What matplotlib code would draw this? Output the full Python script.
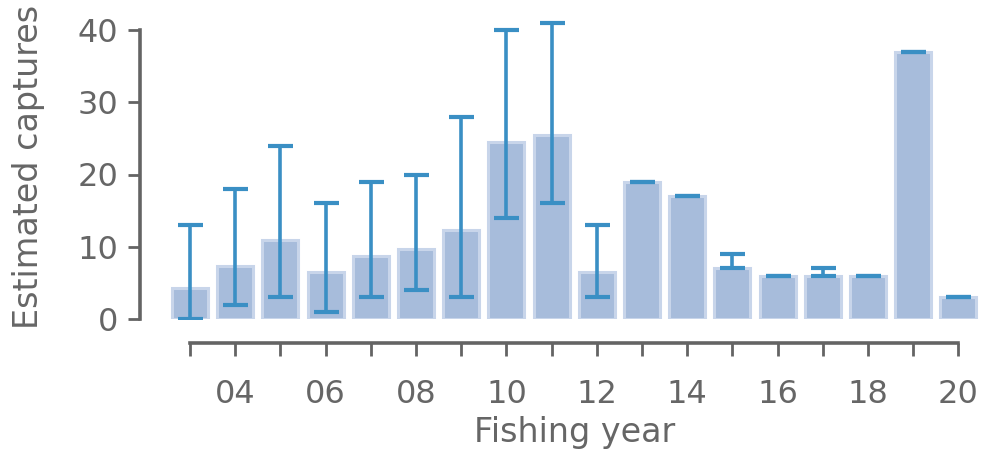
import matplotlib
matplotlib.use("Agg")
import matplotlib.pyplot as plt
import numpy as np

years = ["03", "04", "05", "06", "07", "08", "09", "10", "11", "12",
         "13", "14", "15", "16", "17", "18", "19", "20"]
estimates = [4.3, 7.4, 10.9, 6.5, 8.7, 9.7, 12.3, 24.5, 25.5, 6.5,
             19.0, 17.0, 7.0, 6.0, 6.0, 6.0, 37.0, 3.0]
lower = [0, 2, 3, 1, 3, 4, 3, 14, 16, 3,
         19, 17, 7, 6, 6, 6, 37, 3]
upper = [13, 18, 24, 16, 19, 20, 28, 40, 41, 13,
         19, 17, 9, 6, 7, 6, 37, 3]
ytick_vals = [0, 10, 20, 30, 40]

text_col = "#666666"
spine_col = "#646464"
bar_col = "#a7bcdb"
edge_col = "#c8d5ea"
err_col = "#3a8fc4"

W, H = 981, 453
fig = plt.figure(figsize=(W / 100, H / 100), dpi=100)
ax = fig.add_axes([167.4 / W, (H - 319) / H, (W - 167.4) / W, (319 - 15.55) / H])

x = np.arange(len(years))
est = np.array(estimates)
lo = np.array(lower)
hi = np.array(upper)

ax.bar(x, est, width=0.8, color=bar_col, edgecolor=edge_col, linewidth=2.2, zorder=2)
ax.errorbar(x, est, yerr=[est - lo, hi - est], fmt="none", ecolor=err_col,
            elinewidth=2.6, capsize=9, capthick=3.0, zorder=3)

ax.set_xlim(-0.5, len(years) - 0.5)
ax.set_ylim(0, 42)

for s in ["top", "right"]:
    ax.spines[s].set_visible(False)
ax.spines["left"].set_position(("outward", 27 * 72 / 100))
ax.spines["bottom"].set_position(("outward", 24 * 72 / 100))
ax.spines["left"].set_bounds(0, 40)
ax.spines["bottom"].set_bounds(0, len(years) - 1)
for s in ["left", "bottom"]:
    ax.spines[s].set_color(spine_col)
    ax.spines[s].set_linewidth(2.6)

ax.set_yticks(ytick_vals)
ax.set_yticklabels([str(v) for v in ytick_vals])
ax.set_xticks(x)
ax.set_xticklabels([y if int(y) % 2 == 0 else "" for y in years])

ax.tick_params(axis="both", colors=spine_col, labelcolor=text_col,
               labelsize=23, length=9, width=2.0, direction="out")
ax.tick_params(axis="x", pad=17)
ax.tick_params(axis="y", pad=7)

ax.set_xlabel("Fishing year", fontsize=24, color=text_col, labelpad=4)
ax.set_ylabel("Estimated captures", fontsize=24, color=text_col, labelpad=23)

fig.savefig("out.png", dpi=100)
